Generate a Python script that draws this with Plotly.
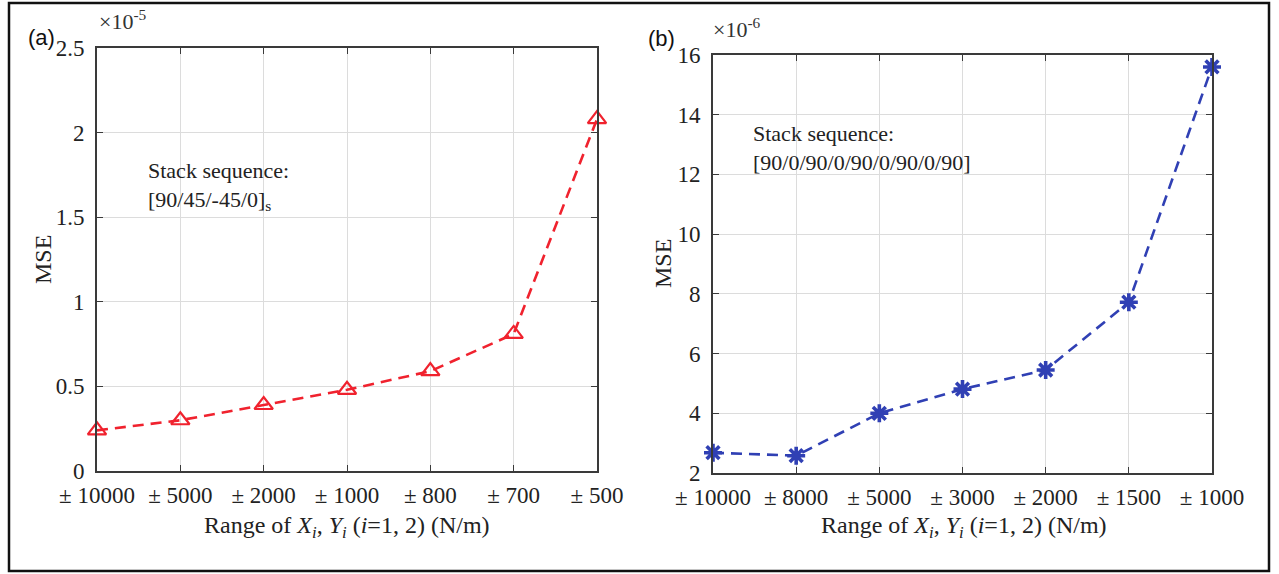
import plotly.graph_objects as go

# ---- data ----
labels_a = ["± 10000", "± 5000", "± 2000", "± 1000", "± 800", "± 700", "± 500"]
mse_a_e5 = [0.24, 0.30, 0.39, 0.48, 0.59, 0.81, 2.08]   # x 1e-5
labels_b = ["± 10000", "± 8000", "± 5000", "± 3000", "± 2000", "± 1500", "± 1000"]
mse_b_e6 = [2.68, 2.58, 4.00, 4.81, 5.45, 7.72, 15.6]   # x 1e-6
yticks_a = [0, 0.5, 1, 1.5, 2, 2.5]
yticks_b = [2, 4, 6, 8, 10, 12, 14, 16]

W, H = 1279, 574
SERIF = "Liberation Serif, Times New Roman, serif"
SANS = "Liberation Sans, Arial, sans-serif"

def px(x):
    return x / W

def py(y):
    return 1 - y / H

fig = go.Figure()
fig.add_trace(go.Scatter(
    x=list(range(len(labels_a))), y=mse_a_e5, mode="lines+markers",
    line=dict(color="#f0222e", width=2.6, dash="11px,7px"),
    marker=dict(symbol="triangle-up-open", size=16, color="#f0222e", line=dict(width=2.2, color="#f0222e")),
    cliponaxis=False, xaxis="x", yaxis="y", showlegend=False))
fig.add_trace(go.Scatter(
    x=list(range(len(labels_b))), y=mse_b_e6, mode="lines+markers",
    line=dict(color="#3040b4", width=2.6, dash="11px,7px"),
    marker=dict(symbol="asterisk-open", size=15, color="#3040b4", line=dict(width=3.6, color="#3040b4")),
    cliponaxis=False, xaxis="x2", yaxis="y2", showlegend=False))

axcommon = dict(showline=True, linecolor="#3a3a3a", linewidth=1.6, mirror="ticks",
                ticks="inside", ticklen=6, tickcolor="#3a3a3a", tickwidth=1.2,
                showgrid=True, gridcolor="#dcdcdc", gridwidth=1, zeroline=False,
                automargin=False,
                tickfont=dict(family=SERIF, size=23, color="#222"))

title_x = "Range of <i>X<sub>i</sub></i>, <i>Y<sub>i</sub></i> (<i>i</i>=1, 2) (N/m)"

fig.update_layout(
    width=W, height=H, margin=dict(l=0, r=0, t=0, b=0, autoexpand=False),
    paper_bgcolor="white", plot_bgcolor="white",
    xaxis=dict(axcommon, domain=[px(97), px(597)], range=[0, 6], ticklabelstandoff=3,
               tickvals=list(range(len(labels_a))), ticktext=labels_a, anchor="y"),
    yaxis=dict(axcommon, domain=[py(471), py(48)], range=[0, 2.5], tickvals=yticks_a, ticklabelstandoff=6,
               ticktext=[f"{v:g}" for v in yticks_a], anchor="x"),
    xaxis2=dict(axcommon, domain=[px(713), px(1212)], range=[0, 6], ticklabelstandoff=3,
                tickvals=list(range(len(labels_b))), ticktext=labels_b, anchor="y2"),
    yaxis2=dict(axcommon, domain=[py(473), py(55)], range=[2, 16], tickvals=yticks_b, ticklabelstandoff=6,
                ticktext=[f"{v:g}" for v in yticks_b], anchor="x2"),
)

tf = dict(family=SERIF, size=24, color="#222")
ann = []
ann.append(dict(x=px(347), y=py(527), xref="paper", yref="paper", text=title_x, showarrow=False,
                xanchor="center", yanchor="middle", font=tf))
ann.append(dict(x=px(964), y=py(527), xref="paper", yref="paper", text=title_x, showarrow=False,
                xanchor="center", yanchor="middle", font=tf))
ann.append(dict(x=px(43), y=py(260), xref="paper", yref="paper", text="MSE", showarrow=False, textangle=-90,
                xanchor="center", yanchor="middle", font=tf))
ann.append(dict(x=px(663), y=py(264), xref="paper", yref="paper", text="MSE", showarrow=False, textangle=-90,
                xanchor="center", yanchor="middle", font=tf))
ann.append(dict(x=px(26), y=py(37), xref="paper", yref="paper", text="(a)", showarrow=False,
                xanchor="left", yanchor="middle", font=dict(family=SANS, size=22, color="#111")))
ann.append(dict(x=px(646), y=py(38), xref="paper", yref="paper", text="(b)", showarrow=False,
                xanchor="left", yanchor="middle", font=dict(family=SANS, size=22, color="#111")))
ann.append(dict(x=px(97), y=py(20), xref="paper", yref="paper", text="×10<sup>-5</sup>", showarrow=False,
                xanchor="left", yanchor="middle", font=dict(family=SERIF, size=22, color="#333")))
ann.append(dict(x=px(711), y=py(28), xref="paper", yref="paper", text="×10<sup>-6</sup>", showarrow=False,
                xanchor="left", yanchor="middle", font=dict(family=SERIF, size=22, color="#333")))
ann.append(dict(x=px(146), y=py(186), xref="paper", yref="paper",
                text="Stack sequence:<br>[90/45/-45/0]<sub>s</sub>", showarrow=False, align="left",
                xanchor="left", yanchor="middle", font=dict(family=SERIF, size=22, color="#222")))
ann.append(dict(x=px(751), y=py(148), xref="paper", yref="paper",
                text="Stack sequence:<br>[90/0/90/0/90/0/90/0/90]", showarrow=False, align="left",
                xanchor="left", yanchor="middle", font=dict(family=SERIF, size=22, color="#222")))
fig.update_layout(annotations=ann)

fig.add_shape(type="rect", xref="paper", yref="paper", x0=px(9), x1=px(1269), y0=py(571), y1=py(3),
              line=dict(color="#111", width=2.5), fillcolor="rgba(0,0,0,0)", layer="above")

fig.write_html("out.html")
